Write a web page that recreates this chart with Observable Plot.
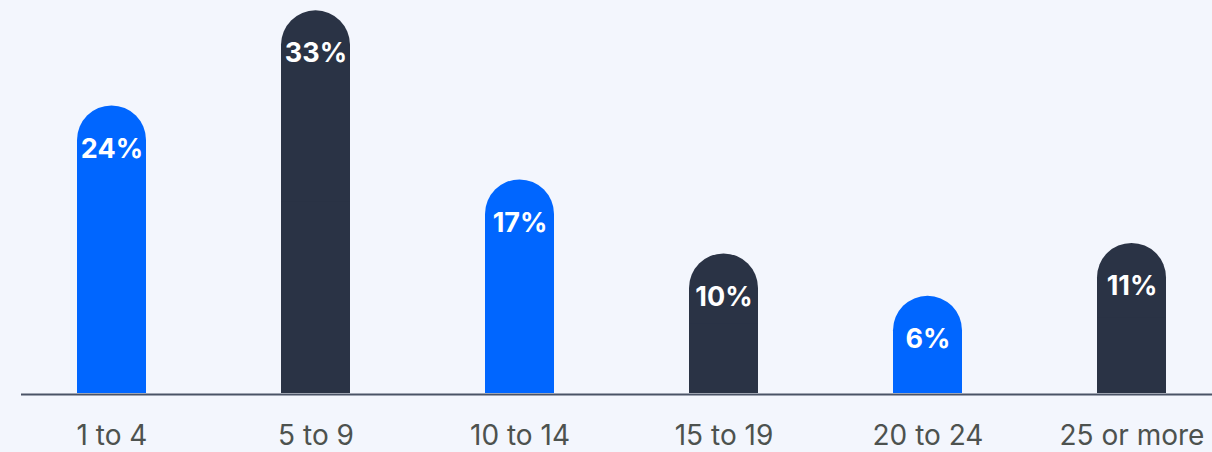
<!DOCTYPE html>
<html>
<head>
<meta charset="utf-8">
<script src="https://cdn.jsdelivr.net/npm/d3@7"></script>
<script src="https://cdn.jsdelivr.net/npm/@observablehq/plot@0.6"></script>
<style>
  html, body { margin: 0; padding: 0; background: #f3f6fd; }
  #chart svg { display: block; }
</style>
</head>
<body>
<div id="chart"></div>
<script>
const categories = ["1 to 4", "5 to 9", "10 to 14", "15 to 19", "20 to 24", "25 or more"];
const values = [24, 33, 17, 10, 6, 11];
const barColors = ["#0066ff", "#2a3345", "#0066ff", "#2a3345", "#0066ff", "#2a3345"];
const yFloor = -3.2;

const data = categories.map((c, i) => ({ category: c, value: values[i], color: barColors[i] }));

const chart = Plot.plot({
  width: 1212,
  height: 452,
  marginTop: 4,
  marginBottom: 59,
  marginLeft: 0,
  marginRight: 0,
  style: { background: "#f3f6fd", fontFamily: "Inter, 'Noto Sans', sans-serif", overflow: "visible" },
  x: { domain: categories, paddingInner: 0.663, paddingOuter: 0.293, align: 0.625, label: null },
  y: { domain: [yFloor, 33.6], axis: null },
  marks: [
    Plot.ruleY([yFloor], { stroke: "#4a5366", strokeWidth: 2, insetLeft: 21, dy: 1 }),
    Plot.barY(data, { x: "category", y1: yFloor, y2: "value", fill: "color", rx: 34.5 }),
    Plot.barY(data, { x: "category", y1: yFloor, y2: d => (yFloor + d.value) / 2, fill: "color" }),
    Plot.text(data, {
      x: "category", y: "value", text: d => d.value + "%",
      dy: 43, fill: "white", fontSize: 27, fontWeight: 700, lineAnchor: "middle"
    }),
    Plot.axisX({ tickSize: 0, tickPadding: 32, fontSize: 28, fill: "#4d524f", label: null })
  ]
});
document.getElementById("chart").appendChild(chart);
</script>
</body>
</html>
